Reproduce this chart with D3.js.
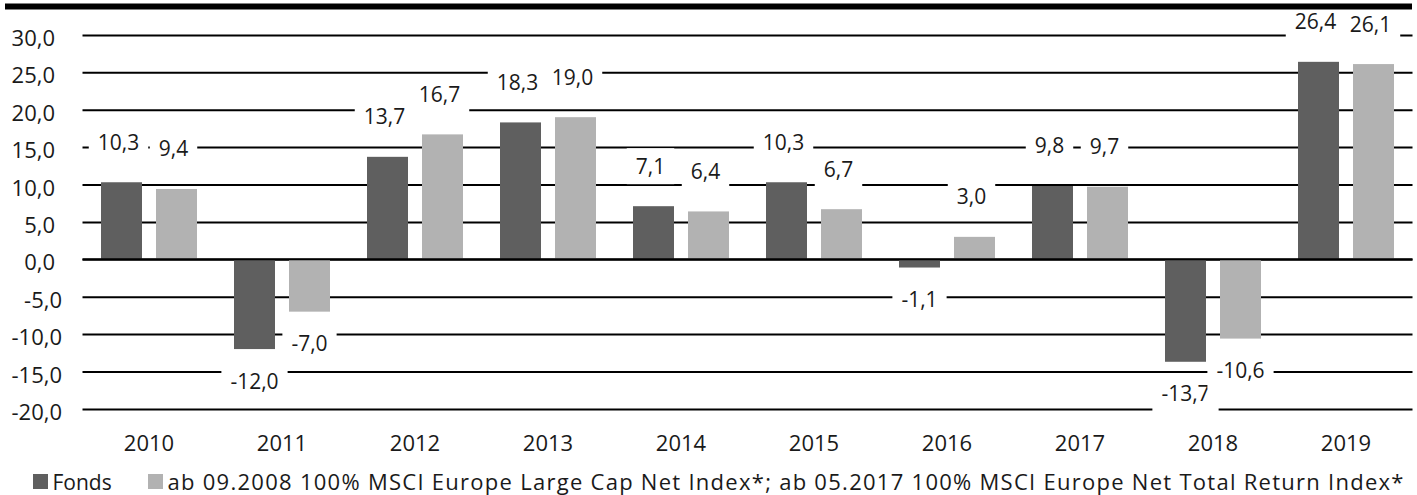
<!DOCTYPE html>
<html lang="de">
<head>
<meta charset="UTF-8">
<script src="https://cdn.jsdelivr.net/npm/d3@7/dist/d3.min.js"></script>
<style>
  body { margin: 0; background: #fff; }
  text { font-family: "Open Sans", sans-serif; fill: #1a1a1a; }
</style>
</head>
<body>
<svg width="1417" height="495"></svg>
<script>
const years = ["2010", "2011", "2012", "2013", "2014", "2015", "2016", "2017", "2018", "2019"];
const fonds = [10.3, -12.0, 13.7, 18.3, 7.1, 10.3, -1.1, 9.8, -13.7, 26.4];
const benchmark = [9.4, -7.0, 16.7, 19.0, 6.4, 6.7, 3.0, 9.7, -10.6, 26.1];
const yTicks = [30, 25, 20, 15, 10, 5, 0, -5, -10, -15, -20];
const seriesNames = [
  "Fonds",
  "ab 09.2008 100% MSCI Europe Large Cap Net Index*; ab 05.2017 100% MSCI Europe Net Total Return Index*"
];
const colors = ["#5f5f5f", "#b2b2b2"];

const svg = d3.select("svg");
const left = 82.5, right = 1412.5;

// comma decimals, plain hyphen minus
const locale = d3.formatLocale({ decimal: ",", thousands: ".", grouping: [3], currency: ["", " €"], minus: "-" });
const fmt = locale.format(".1f");

const x = d3.scaleBand().domain(years).range([left, right]);
const xInner = d3.scaleBand().domain([0, 1]).range([18.5, 114.5]).paddingInner(14 / 55);
const y = d3.scaleLinear().domain([-20, 30]).range([408.9, 34.9]);

// grid + y labels
const yAxis = svg.append("g")
  .attr("transform", `translate(${left},0)`)
  .call(d3.axisLeft(y).tickValues(yTicks).tickSize(-(right - left)).tickPadding(20.5).tickFormat(fmt));
yAxis.select(".domain").remove();
yAxis.selectAll(".tick line").attr("stroke", "#000").attr("stroke-width", 2);
yAxis.selectAll(".tick text")
  .style("font-size", "22px")
  .attr("font-family", null)
  .attr("dy", null)
  .attr("y", 10.5)
  .attr("dx", d => d >= 0 ? -7 : 0);

// x labels
const xAxis = svg.append("g")
  .attr("transform", "translate(0,409)")
  .call(d3.axisBottom(x).tickSize(0));
xAxis.select(".domain").remove();
xAxis.selectAll(".tick text")
  .style("font-size", "22px")
  .attr("dy", null)
  .attr("y", 42);

// bars
const rows = [];
years.forEach((yr, i) => {
  rows.push({ year: yr, s: 0, v: fonds[i] });
  rows.push({ year: yr, s: 1, v: benchmark[i] });
});

svg.append("g").selectAll("rect")
  .data(rows)
  .join("rect")
  .attr("x", d => x(d.year) + xInner(d.s))
  .attr("width", xInner.bandwidth())
  .attr("y", d => y(Math.max(0, d.v)))
  .attr("height", d => Math.abs(y(d.v) - y(0)))
  .attr("fill", d => colors[d.s]);

// zero line on top of bars
svg.append("line")
  .attr("x1", left).attr("x2", right)
  .attr("y1", y(0)).attr("y2", y(0))
  .attr("stroke", "#000").attr("stroke-width", 2);

// value labels with white boxes
const lab = svg.append("g").selectAll("g")
  .data(rows)
  .join("g")
  .attr("transform", d => {
    const cx = x(d.year) + xInner(d.s) + xInner.bandwidth() / 2 - (d.v >= 0 ? 3 : 0);
    const cy = d.v >= 0 ? y(d.v) - 40 : y(d.v) + 32;
    return `translate(${cx},${cy})`;
  });
lab.append("rect").attr("fill", "#fff");
lab.append("text")
  .attr("text-anchor", "middle")
  .attr("y", 7.5)
  .style("font-size", "21px")
  .text(d => fmt(d.v));
lab.each(function () {
  const g = d3.select(this);
  const w = g.select("text").node().getComputedTextLength() + 18;
  g.select("rect").attr("x", -w / 2).attr("y", -18).attr("width", w).attr("height", 36);
});

// top rule
svg.append("rect")
  .attr("x", 5).attr("y", 3.5)
  .attr("width", 1407).attr("height", 6)
  .attr("fill", "#000");

// legend
const legendX = [33, 148];
const leg = svg.append("g").selectAll("g")
  .data(seriesNames)
  .join("g")
  .attr("transform", (d, i) => `translate(${legendX[i]},474)`);
leg.append("rect").attr("width", 15).attr("height", 15).attr("fill", (d, i) => colors[i]);
leg.append("text")
  .attr("x", 19.5)
  .attr("y", 15.5)
  .style("font-size", (d, i) => i === 1 ? "22px" : "21px")
  .text(d => d);
// long benchmark name runs out to ~1403 in the original
leg.filter((d, i) => i === 1).select("text")
  .attr("textLength", 1236)
  .attr("lengthAdjust", "spacing");
</script>
</body>
</html>
